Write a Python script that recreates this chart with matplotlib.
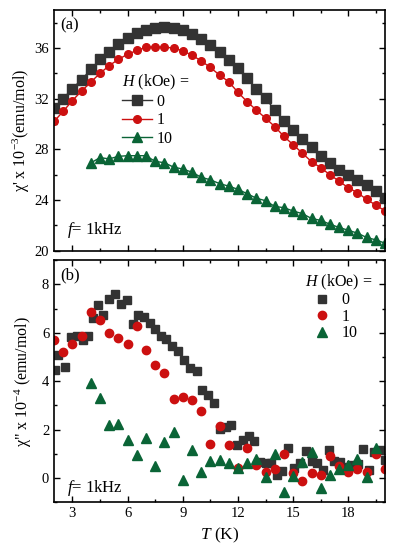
import numpy as np
import matplotlib
matplotlib.use("Agg")
import matplotlib.pyplot as plt
from matplotlib.ticker import MultipleLocator

plt.rcParams['font.family'] = ['Liberation Serif', 'DejaVu Serif']
plt.rcParams['mathtext.fontset'] = 'custom'
plt.rcParams['mathtext.rm'] = 'Liberation Serif'
plt.rcParams['mathtext.it'] = 'Liberation Serif:italic'

# ---- (a) real part, chi' x 1e-3 emu/mol ----
T_a = np.arange(2.0, 20.01, 0.5)
chi1_H0 = [31.3, 32.0, 32.8, 33.5, 34.3, 35.1, 35.7, 36.3, 36.8, 37.15, 37.4,
           37.55, 37.62, 37.57, 37.4, 37.13, 36.74, 36.27, 35.69, 35.04, 34.38,
           33.6, 32.8, 32.03, 31.1, 30.2, 29.55, 28.84, 28.16, 27.45, 26.9,
           26.4, 26.0, 25.6, 25.2, 24.7, 24.2]
chi1_H1 = [30.2, 31.0, 31.85, 32.6, 33.3, 34.0, 34.6, 35.1, 35.5, 35.8, 36.05,
           36.08, 36.05, 36.0, 35.77, 35.43, 34.98, 34.46, 33.86, 33.33, 32.5,
           31.76, 31.1, 30.46, 29.8, 29.02, 28.37, 27.7, 27.03, 26.55, 26.0,
           25.49, 24.97, 24.58, 24.05, 23.6, 23.14]
T_a10 = np.arange(4.0, 20.01, 0.5)
chi1_H10 = [26.93, 27.35, 27.25, 27.45, 27.5, 27.5, 27.5, 27.05, 26.95, 26.6,
            26.45, 26.2, 25.8, 25.6, 25.3, 25.1, 24.85, 24.5, 24.15, 23.95,
            23.5, 23.4, 23.14, 22.93, 22.55, 22.4, 22.1, 21.84, 21.62, 21.39,
            21.05, 20.86, 20.6]

# ---- (b) imaginary part, chi'' x 1e-4 emu/mol ----
T_b0 = [2.03, 2.2, 2.59, 2.9, 3.25, 3.58, 3.85, 4.12, 4.39, 4.69, 5.0, 5.32,
        5.63, 5.95, 6.27, 6.58, 6.89, 7.21, 7.48, 7.84, 8.1, 8.43, 8.75, 9.08,
        9.4, 9.75, 10.07, 10.38, 10.68, 11.05, 11.36, 11.65, 11.96, 12.27,
        12.58, 12.9, 13.2, 13.5, 13.78, 14.11, 14.42, 14.74, 15.06, 15.39,
        15.7, 16.02, 16.3, 16.63, 16.93, 17.24, 17.55, 17.84, 18.17, 18.51,
        18.8, 19.13, 19.39, 19.73, 20.02]
chi2_H0 = [4.47, 5.09, 4.6, 5.82, 5.85, 5.68, 5.85, 6.61, 7.16, 6.75, 7.4, 7.61,
           7.19, 7.34, 6.38, 6.75, 6.65, 6.4, 6.17, 5.85, 5.75, 5.46, 5.26,
           4.87, 4.53, 4.44, 3.65, 3.42, 3.08, 2.02, 2.1, 2.18, 1.35, 1.58,
           1.74, 1.53, 0.66, 0.61, 0.6, 0.11, 0.28, 1.22, 0.4, 0.6, 1.1, 0.7,
           0.6, 0.33, 1.14, 0.7, 0.64, 0.46, 0.53, 0.58, 1.2, 0.34, 1.06, 1.15,
           0.75]
T_b1 = np.arange(2.0, 20.01, 0.5)
chi2_H1 = [5.7, 5.2, 5.54, 5.88, 6.84, 6.51, 5.98, 5.77, 5.54, 6.26, 5.29, 4.67,
           4.33, 3.26, 3.35, 3.22, 2.75, 1.42, 2.13, 1.35, 0.42, 1.24, 0.53,
           0.25, 0.38, 0.97, 0.2, -0.14, 0.21, 0.11, 0.92, 0.5, 0.26, 0.36,
           0.23, 1.0, 0.39]
T_b10 = np.arange(4.0, 19.51, 0.5)
chi2_H10 = [3.91, 3.29, 2.19, 2.23, 1.56, 0.94, 1.67, 0.49, 1.47, 1.91, -0.08,
            1.17, 0.23, 0.7, 0.75, 0.62, 0.42, 0.62, 0.78, 0.04, 1.0, -0.58,
            0.1, 0.66, 1.06, -0.42, 0.12, 0.36, 0.53, 0.8, 0.04, 1.24]

fields = ['0', '1', '10']
c_gray = '#333333'
c_red = '#cc1010'
c_green = '#0a6436'

fig = plt.figure(figsize=(3.97, 5.5), dpi=100)
ax1 = fig.add_axes([0.136, 0.544, 0.834, 0.438])
ax2 = fig.add_axes([0.136, 0.087, 0.834, 0.440])

ax1.plot(T_a, chi1_H0, '-s', color=c_gray, ms=6.5, lw=1, label=fields[0])
ax1.plot(T_a, chi1_H1, '-o', color=c_red, ms=5.5, lw=1, label=fields[1])
ax1.plot(T_a10, chi1_H10, '-^', color=c_green, ms=6.5, lw=1, label=fields[2])

ax2.plot(T_b0, chi2_H0, 's', color=c_gray, ms=6, label=fields[0])
ax2.plot(T_b1, chi2_H1, 'o', color=c_red, ms=6, label=fields[1])
ax2.plot(T_b10, chi2_H10, '^', color=c_green, ms=6.5, label=fields[2])

for ax in (ax1, ax2):
    ax.set_xlim(2, 20)
    ax.xaxis.set_major_locator(MultipleLocator(3))
    ax.xaxis.set_minor_locator(MultipleLocator(1.5))
    ax.tick_params(which='both', direction='in', top=True, right=True,
                   labelsize=10.5, width=1)
    ax.tick_params(which='major', length=4)
    ax.tick_params(which='minor', length=2.5)
    for s in ax.spines.values():
        s.set_linewidth(1.2)

ax1.set_ylim(20, 39)
ax1.yaxis.set_major_locator(MultipleLocator(4))
ax1.yaxis.set_minor_locator(MultipleLocator(2))
ax1.tick_params(labelbottom=False)
ax1.set_ylabel(r"χ' x 10$^{-3}$(emu/mol)", fontsize=11.5, labelpad=2)

ax2.set_ylim(-1, 9)
ax2.yaxis.set_major_locator(MultipleLocator(2))
ax2.yaxis.set_minor_locator(MultipleLocator(1))
ax2.set_ylabel(r'χ" x 10$^{-4}$ (emu/mol)', fontsize=11.5, labelpad=6)
ax2.set_xlabel(r'$T$ (K)', fontsize=12.5, labelpad=4)

ax1.text(0.02, 0.97, '(a)', transform=ax1.transAxes, fontsize=12, va='top')
ax2.text(0.02, 0.97, '(b)', transform=ax2.transAxes, fontsize=12, va='top')
ax1.text(0.04, 0.07, r'$f$= 1kHz', transform=ax1.transAxes, fontsize=12)
ax2.text(0.04, 0.04, r'$f$= 1kHz', transform=ax2.transAxes, fontsize=12)

leg1 = ax1.legend(title=r'$H$ (kOe) =', loc='upper left',
                  bbox_to_anchor=(0.172, 0.787), frameon=False, fontsize=11.5,
                  title_fontsize=11.5, handlelength=1.9, handletextpad=0.25,
                  labelspacing=0.15, borderpad=0.2)
leg1._legend_box.align = 'left'

leg2 = ax2.legend(title=r'$H$ (kOe) =', loc='upper right',
                  bbox_to_anchor=(1.0, 1.0), frameon=False, fontsize=11.5,
                  title_fontsize=11.5, handlelength=2.1, handletextpad=0.2,
                  labelspacing=0.02, borderpad=0.3)
leg2._legend_box.align = 'left'

fig.savefig('out.png', dpi=100)
